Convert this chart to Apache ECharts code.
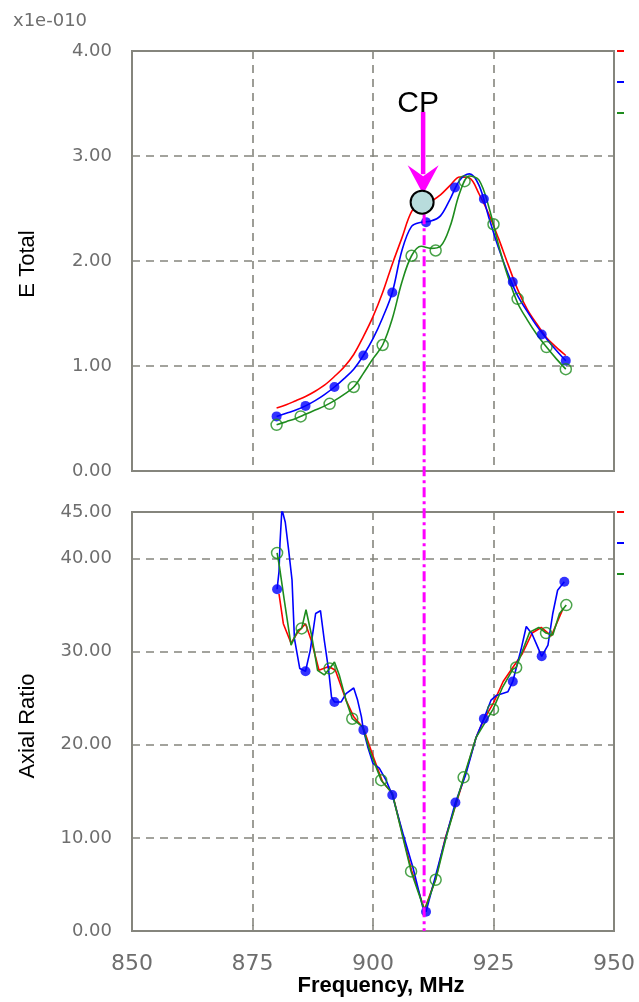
<!DOCTYPE html>
<html>
<head>
<meta charset="utf-8">
<script src="https://cdn.jsdelivr.net/npm/echarts@6/dist/echarts.min.js"></script>
<style>
html,body{margin:0;padding:0;background:#fff;}
#c{width:639px;height:1002px;}
</style>
</head>
<body>
<div id="c"></div>
<script>
// ---------- data ----------
const xTicks = [850, 875, 900, 925, 950];
const eYTicks = [0, 1, 2, 3, 4];
const arYTicks = [0, 10, 20, 30, 40, 45];

// Top plot: E Total (x1e-010)
const eFreq  = [880,882,884,886,888,890,892,894,896,898,900,902,904,906,908,910,912,914,916,918,920,922,924,926,928,930,932,934,936,938,940];
const eRed   = [0.60,0.63,0.67,0.71,0.76,0.82,0.90,0.99,1.11,1.28,1.47,1.70,1.97,2.22,2.47,2.56,2.57,2.63,2.72,2.80,2.79,2.64,2.45,2.22,1.97,1.73,1.54,1.40,1.27,1.18,1.10];
const eBlue  = [0.52,0.55,0.58,0.62,0.67,0.73,0.80,0.88,0.97,1.10,1.26,1.46,1.70,2.10,2.33,2.37,2.38,2.43,2.59,2.77,2.83,2.72,2.42,2.13,1.88,1.67,1.52,1.38,1.26,1.15,1.05];
const eGreen = [0.44,0.47,0.50,0.54,0.58,0.62,0.67,0.73,0.80,0.93,1.07,1.20,1.45,1.80,2.05,2.14,2.12,2.14,2.33,2.65,2.81,2.77,2.52,2.16,1.85,1.60,1.44,1.30,1.18,1.07,0.97];
const eBlueMarkF  = [880,886,892,898,904,911,917,923,929,935,940];
const eBlueMarkV  = [0.52,0.62,0.80,1.10,1.70,2.37,2.70,2.59,1.80,1.30,1.05];
const eGreenMarkF = [880,885,891,896,902,908,913,919,925,930,936,940];
const eGreenMarkV = [0.44,0.52,0.64,0.80,1.20,2.05,2.10,2.76,2.35,1.64,1.18,0.97];

// Bottom plot: Axial Ratio
const arRedF = [880.5,881.4,883.0,884.4,886.0,887.2,888.8,890.8,892.2,894.4,896.0,898.0,900.0,902.0,904.0,908.0,910.7,913.0,915.0,919.0,921.4,923.0,925.0,927.0,929.0,931.0,933.0,934.9,937.0,939.4];
const arRedV = [36.2,33.0,30.9,32.1,33.0,31.2,28.0,28.4,28.0,24.8,23.0,21.8,18.8,16.0,14.8,6.5,2.3,5.6,10.0,16.6,20.8,22.7,24.5,26.8,28.3,29.8,32.0,32.6,31.7,34.6];
const arBlueF = [880.1,880.5,880.7,881.1,881.8,882.5,883.2,883.7,884.8,886.0,887.0,888.1,889.1,889.9,890.8,891.4,892.0,893.4,894.4,896.0,896.8,897.6,898.0,898.9,900.0,901.3,902.7,904.0,906.2,908.3,910.3,911.0,914.5,917.1,919.3,921.4,923.0,924.5,925.6,928.0,929.0,929.8,930.7,931.8,933.0,934.0,935.0,936.3,937.3,938.3,939.7];
const arBlueV = [36.7,38.6,41.6,45.3,43.9,40.9,37.7,31.4,28.2,27.9,30.2,34.1,34.4,31.2,28.0,25.1,24.6,24.6,25.5,26.1,24.8,23.0,21.6,19.8,18.0,17.5,16.2,14.6,10.5,6.8,2.6,2.07,8.9,13.8,16.9,20.8,22.8,24.8,25.3,25.7,26.8,28.4,30.2,32.7,31.9,30.7,29.5,30.7,34.1,36.6,37.5];
const arGreenF = [880.1,880.6,881.6,883.0,884.4,885.2,886.1,887.2,888.5,889.9,891.0,892.0,893.0,894.4,895.7,897.9,899.3,901.7,904.0,907.9,910.7,913.0,915.2,918.8,921.4,924.9,926.9,929.0,929.7,932.5,934.4,935.9,937.3,938.7,940.1];
const arGreenV = [40.6,39.1,35.5,30.7,32.3,32.5,34.5,31.9,28.0,27.5,28.2,28.9,27.5,24.8,22.8,21.9,19.4,16.2,14.8,6.4,2.2,5.5,10.1,16.5,20.8,23.8,26.2,28.1,28.3,32.1,32.6,32.0,31.8,34.1,35.0];
const arBlueMarkF  = [880.1,886.0,892.0,898.0,904.0,911.0,917.1,923.0,929.0,935.0,939.7];
const arBlueMarkV  = [36.7,27.9,24.6,21.6,14.6,2.07,13.8,22.8,26.8,29.5,37.5];
const arGreenMarkF = [880.1,885.2,891.0,895.7,901.7,907.9,913.0,918.8,924.9,929.7,935.9,940.1];
const arGreenMarkV = [40.6,32.5,28.2,22.8,16.2,6.4,5.5,16.5,23.8,28.3,32.0,35.0];

// CP annotation
const cpFreq = 910.4;
const cpVal = 2.56;
const cpArrowTop = 3.42;
const cpLabel = 'CP';
const scaleLabel = 'x1e-010';

// ---------- styles ----------
const RED = '#ff0000', BLUE = '#0000ff', GREEN = '#1e8c1e', MAG = '#ff00ff';
const GRID_C = '#85857d', LABEL_C = '#6e6e6e';
const pair = (fs, vs) => fs.map((f, i) => [f, vs[i]]);

const chart = echarts.init(document.getElementById('c'), null, {renderer: 'canvas'});

const splitLine = {show: true, lineStyle: {color: GRID_C, type: [8, 6], width: 1.6}};
function xAx(gi, showLabel) {
  return {
    type: 'value', gridIndex: gi, min: xTicks[0], max: xTicks[xTicks.length - 1], interval: 25,
    axisLine: {show: false},
    axisTick: {show: showLabel, inside: true, length: 6, lineStyle: {color: GRID_C, width: 1.5}},
    axisLabel: {show: showLabel, color: LABEL_C, fontFamily: 'DejaVu Sans', fontSize: 22, margin: 22},
    splitLine: splitLine
  };
}
function yAx(gi, max, interval) {
  return {
    type: 'value', gridIndex: gi, min: 0, max: max, interval: interval,
    axisLine: {show: false}, axisTick: {show: false},
    axisLabel: {color: LABEL_C, fontFamily: 'DejaVu Sans', fontSize: 18, margin: 20,
      formatter: v => v.toFixed(2)},
    splitLine: splitLine
  };
}
const lineS = (name, xi, data, color, smooth) => ({
  name, type: 'line', xAxisIndex: xi, yAxisIndex: xi, data, smooth: smooth,
  showSymbol: false, symbol: 'none', clip: true, animation: false,
  lineStyle: {color, width: 1.6}, itemStyle: {color}
});
const dotS = (name, xi, data, color) => ({
  name, type: 'scatter', xAxisIndex: xi, yAxisIndex: xi, data, symbol: 'circle', symbolSize: 10,
  itemStyle: {color}, animation: false, z: 3
});
const ringS = (name, xi, data, color) => ({
  name, type: 'scatter', xAxisIndex: xi, yAxisIndex: xi, data, symbol: 'circle', symbolSize: 11,
  itemStyle: {color: 'rgba(0,0,0,0)', borderColor: color, borderWidth: 1.5}, animation: false, z: 3
});

chart.setOption({
  backgroundColor: '#fff',
  animation: false,
  textStyle: {fontFamily: 'Liberation Sans'},
  grid: [
    {left: 132, right: 25, top: 51, height: 420, show: true, borderColor: GRID_C, borderWidth: 2, backgroundColor: 'transparent'},
    {left: 132, right: 25, top: 512, height: 419, show: true, borderColor: GRID_C, borderWidth: 2, backgroundColor: 'transparent'}
  ],
  xAxis: [xAx(0, false), xAx(1, true)],
  yAxis: [yAx(0, 4, 1), yAx(1, 45, 10)],
  series: [
    lineS('E red', 0, pair(eFreq, eRed), RED, 0.35),
    lineS('E blue', 0, pair(eFreq, eBlue), BLUE, 0.35),
    lineS('E green', 0, pair(eFreq, eGreen), GREEN, 0.35),
    dotS('E blue pts', 0, pair(eBlueMarkF, eBlueMarkV), BLUE),
    ringS('E green pts', 0, pair(eGreenMarkF, eGreenMarkV), GREEN),
    lineS('AR red', 1, pair(arRedF, arRedV), RED, false),
    lineS('AR blue', 1, pair(arBlueF, arBlueV), BLUE, false),
    lineS('AR green', 1, pair(arGreenF, arGreenV), GREEN, false),
    dotS('AR blue pts', 1, pair(arBlueMarkF, arBlueMarkV), BLUE),
    ringS('AR green pts', 1, pair(arGreenMarkF, arGreenMarkV), GREEN)
  ]
});

// ---------- annotations ----------
const [cx, cy] = chart.convertToPixel({xAxisIndex: 0, yAxisIndex: 0}, [cpFreq, cpVal]);
const yTopArrow = chart.convertToPixel({yAxisIndex: 0}, cpArrowTop);
const yBot = chart.convertToPixel({yAxisIndex: 1}, 0);
const gLeft = chart.convertToPixel({xAxisIndex: 0}, xTicks[0]);
const gRight = chart.convertToPixel({xAxisIndex: 0}, xTicks[xTicks.length - 1]);
const yTop0 = chart.convertToPixel({yAxisIndex: 0}, 4);
const yTop1 = chart.convertToPixel({yAxisIndex: 1}, 45);

const stubs = [];
[[yTop0, 0], [yTop0 + 31, 1], [yTop0 + 62, 2], [yTop1, 0], [yTop1 + 31, 1], [yTop1 + 62, 2]].forEach(([y, k]) => {
  stubs.push({type: 'rect', shape: {x: gRight + 3, y: y - 1, width: 7, height: 2}, style: {fill: [RED, BLUE, GREEN][k]}, z: 20});
});

chart.setOption({
  graphic: [
    {type: 'text', left: 13, top: 12, style: {text: scaleLabel, fill: LABEL_C, font: '18px "DejaVu Sans"'}},
    {type: 'text', x: 28, y: 264, rotation: Math.PI / 2,
     style: {text: 'E Total', fill: '#000', font: '22px "Liberation Sans"', align: 'center', verticalAlign: 'middle'}},
    {type: 'text', x: 28, y: 726, rotation: Math.PI / 2,
     style: {text: 'Axial Ratio', fill: '#000', font: '22px "Liberation Sans"', align: 'center', verticalAlign: 'middle'}},
    {type: 'text', x: (gLeft + gRight) / 2 + 8, y: 986,
     style: {text: 'Frequency, MHz', fill: '#000', font: 'bold 22px "Liberation Sans"', align: 'center', verticalAlign: 'middle'}},
    // dash-dot vertical line
    {type: 'line', z: 30, shape: {x1: cx + 1, y1: cy + 12, x2: cx + 1, y2: yBot},
     style: {stroke: MAG, lineWidth: 3, lineDash: [10, 4, 3, 4]}},
    // arrow shaft
    {type: 'line', z: 31, shape: {x1: cx, y1: yTopArrow, x2: cx, y2: cy - 28},
     style: {stroke: MAG, lineWidth: 4.5}},
    // arrow head
    {type: 'polygon', z: 31, shape: {points: [[cx, cy - 8], [cx - 15.5, cy - 37], [cx, cy - 26], [cx + 15.5, cy - 37]]},
     style: {fill: MAG}},
    // CP circle
    {type: 'circle', z: 32, shape: {cx: cx - 1, cy: cy, r: 11.5},
     style: {fill: '#b8dcdc', stroke: '#000', lineWidth: 2}},
    {type: 'text', z: 32, x: cx - 5, y: 104,
     style: {text: cpLabel, fill: '#000', font: '30px "Liberation Sans"', align: 'center', verticalAlign: 'middle'}}
  ].concat(stubs)
});
</script>
</body>
</html>
